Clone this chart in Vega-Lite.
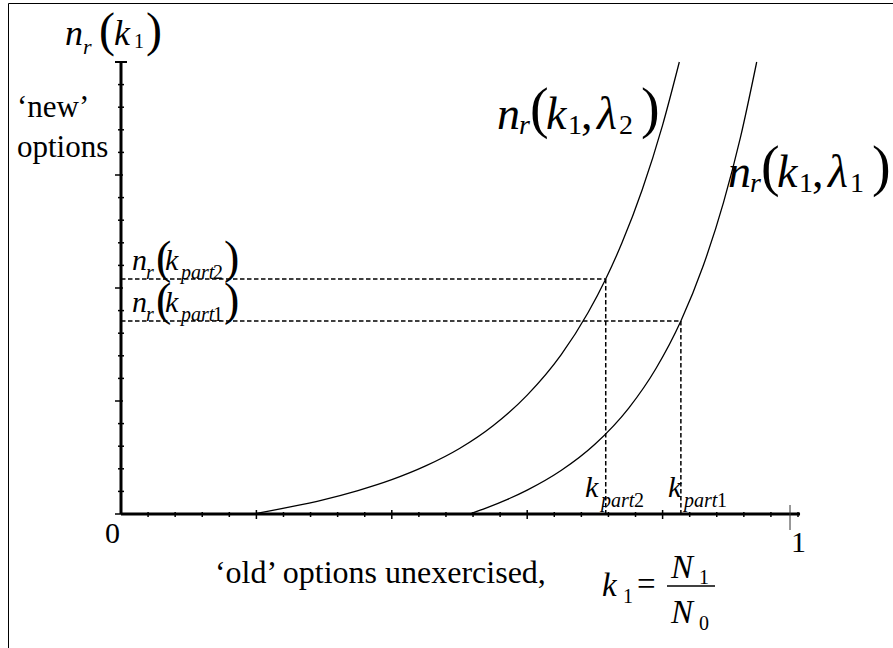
{
  "$schema": "https://vega.github.io/schema/vega-lite/v6.json",
  "width": 885,
  "height": 645,
  "autosize": "none",
  "padding": {"left": 8, "top": 3, "right": 0, "bottom": 0},
  "background": "white",
  "config": {
    "font": "Liberation Serif, Times New Roman, DejaVu Serif, serif",
    "view": {"stroke": "black", "strokeWidth": 1},
    "text": {"font": "Liberation Serif, Times New Roman, DejaVu Serif, serif", "color": "black", "align": "left", "baseline": "alphabetic"}
  },
  "datasets": {
    "curves": [
      {"x": 0.195, "y": 0.0, "c": "lambda2"},
      {"x": 0.22, "y": 0.0068, "c": "lambda2"},
      {"x": 0.25, "y": 0.0156, "c": "lambda2"},
      {"x": 0.3, "y": 0.032, "c": "lambda2"},
      {"x": 0.35, "y": 0.0519, "c": "lambda2"},
      {"x": 0.4, "y": 0.076, "c": "lambda2"},
      {"x": 0.45, "y": 0.1064, "c": "lambda2"},
      {"x": 0.5, "y": 0.145, "c": "lambda2"},
      {"x": 0.55, "y": 0.1959, "c": "lambda2"},
      {"x": 0.6, "y": 0.263, "c": "lambda2"},
      {"x": 0.65, "y": 0.352, "c": "lambda2"},
      {"x": 0.69, "y": 0.4458, "c": "lambda2"},
      {"x": 0.716, "y": 0.52, "c": "lambda2"},
      {"x": 0.74, "y": 0.5999, "c": "lambda2"},
      {"x": 0.77, "y": 0.7179, "c": "lambda2"},
      {"x": 0.8, "y": 0.8605, "c": "lambda2"},
      {"x": 0.8247, "y": 1.0, "c": "lambda2"},
      {"x": 0.515, "y": 0.0, "c": "lambda1"},
      {"x": 0.54, "y": 0.0135, "c": "lambda1"},
      {"x": 0.57, "y": 0.0318, "c": "lambda1"},
      {"x": 0.6, "y": 0.0529, "c": "lambda1"},
      {"x": 0.65, "y": 0.0962, "c": "lambda1"},
      {"x": 0.7, "y": 0.1543, "c": "lambda1"},
      {"x": 0.75, "y": 0.2344, "c": "lambda1"},
      {"x": 0.79, "y": 0.3214, "c": "lambda1"},
      {"x": 0.827, "y": 0.427, "c": "lambda1"},
      {"x": 0.86, "y": 0.5491, "c": "lambda1"},
      {"x": 0.89, "y": 0.6894, "c": "lambda1"},
      {"x": 0.915, "y": 0.8331, "c": "lambda1"},
      {"x": 0.939, "y": 1.0, "c": "lambda1"}
    ],
    "guides": [
      {"x": 0, "y": 0.52, "x2": 0.716, "y2": 0.52},
      {"x": 0.716, "y": 0.52, "x2": 0.716, "y2": 0},
      {"x": 0, "y": 0.427, "x2": 0.827, "y2": 0.427},
      {"x": 0.827, "y": 0.427, "x2": 0.827, "y2": 0}
    ],
    "axes": [
      {"x": 0, "y": 0, "x2": 1.003, "y2": 0},
      {"x": 0, "y": 0, "x2": 0, "y2": 1}
    ],
    "xMinor": [
      {"x": 0.04, "y": 0}, {"x": 0.08, "y": 0}, {"x": 0.12, "y": 0}, {"x": 0.16, "y": 0},
      {"x": 0.24, "y": 0}, {"x": 0.28, "y": 0}, {"x": 0.32, "y": 0}, {"x": 0.36, "y": 0},
      {"x": 0.44, "y": 0}, {"x": 0.48, "y": 0}, {"x": 0.52, "y": 0}, {"x": 0.56, "y": 0},
      {"x": 0.64, "y": 0}, {"x": 0.68, "y": 0}, {"x": 0.72, "y": 0}, {"x": 0.76, "y": 0},
      {"x": 0.84, "y": 0}, {"x": 0.88, "y": 0}, {"x": 0.92, "y": 0}, {"x": 0.96, "y": 0},
      {"x": 1.0, "y": 0}
    ],
    "xMajor": [
      {"x": 0.2, "y": 0}, {"x": 0.4, "y": 0}, {"x": 0.6, "y": 0}, {"x": 0.8, "y": 0}
    ],
    "yMinor": [
      {"x": 0, "y": 0.05}, {"x": 0, "y": 0.1}, {"x": 0, "y": 0.15}, {"x": 0, "y": 0.2},
      {"x": 0, "y": 0.3}, {"x": 0, "y": 0.35}, {"x": 0, "y": 0.4}, {"x": 0, "y": 0.45},
      {"x": 0, "y": 0.55}, {"x": 0, "y": 0.6}, {"x": 0, "y": 0.65}, {"x": 0, "y": 0.7},
      {"x": 0, "y": 0.8}, {"x": 0, "y": 0.85}, {"x": 0, "y": 0.9}, {"x": 0, "y": 0.95}
    ],
    "yMajor": [
      {"x": 0, "y": 0}, {"x": 0, "y": 0.25}, {"x": 0, "y": 0.5}, {"x": 0, "y": 0.75}
    ],
    "yCap": [{"x": 0, "y": 1}],
    "oneMark": [{"x": 0.9882, "y": 0}],
    "plain31": [
      {"x": -0.1536, "y": 0.8783, "t": "‘new’"},
      {"x": -0.1536, "y": 0.7898, "t": "options"}
    ],
    "plain32": [
      {"x": 0.1388, "y": -0.1527, "t": "‘old’ options unexercised,"}
    ],
    "digits30": [
      {"x": -0.0126, "y": -0.0642, "t": "0"},
      {"x": 1.0007, "y": -0.0841, "t": "1"}
    ],
    "it46": [
      {"x": 0.5554, "y": 0.8518, "t": "n"},
      {"x": 0.6278, "y": 0.8518, "t": "k"},
      {"x": 0.7031, "y": 0.8518, "t": "λ"},
      {"x": 0.8966, "y": 0.7235, "t": "n"},
      {"x": 0.969, "y": 0.7235, "t": "k"},
      {"x": 1.0443, "y": 0.7235, "t": "λ"}
    ],
    "itSub28": [
      {"x": 0.5879, "y": 0.8407, "t": "r"},
      {"x": 0.9291, "y": 0.7124, "t": "r"}
    ],
    "upSub28": [
      {"x": 0.6603, "y": 0.8407, "t": "1"},
      {"x": 0.7356, "y": 0.8407, "t": "2"},
      {"x": 1.0015, "y": 0.7124, "t": "1"},
      {"x": 1.0768, "y": 0.7124, "t": "1"}
    ],
    "comma46": [
      {"x": 0.6795, "y": 0.8518, "t": ","},
      {"x": 1.0207, "y": 0.7235, "t": ","}
    ],
    "paren56": [
      {"x": 0.6041, "y": 0.8562, "t": "("},
      {"x": 0.768, "y": 0.8562, "t": ")"},
      {"x": 0.9453, "y": 0.7279, "t": "("},
      {"x": 1.1093, "y": 0.7279, "t": ")"}
    ],
    "it36": [
      {"x": -0.0827, "y": 1.0376, "t": "n"},
      {"x": -0.0103, "y": 1.0376, "t": "k"}
    ],
    "itSub22": [
      {"x": -0.0561, "y": 1.0177, "t": "r"}
    ],
    "paren48": [
      {"x": -0.0325, "y": 1.0343, "t": "("},
      {"x": 0.0369, "y": 1.0343, "t": ")"}
    ],
    "it30": [
      {"x": 0.01625, "y": 0.5398, "t": "n"},
      {"x": 0.065, "y": 0.5398, "t": "k"},
      {"x": 0.01625, "y": 0.4469, "t": "n"},
      {"x": 0.065, "y": 0.4469, "t": "k"},
      {"x": 0.6854, "y": 0.0376, "t": "k"},
      {"x": 0.808, "y": 0.0376, "t": "k"}
    ],
    "it33": [
      {"x": 0.7105, "y": -0.1814, "t": "k"},
      {"x": 0.8124, "y": -0.1416, "t": "N"},
      {"x": 0.8124, "y": -0.2412, "t": "N"}
    ],
    "itSub20": [
      {"x": 0.0369, "y": 0.5199, "t": "r"},
      {"x": 0.0886, "y": 0.5199, "t": "part"},
      {"x": 0.0369, "y": 0.427, "t": "r"},
      {"x": 0.0886, "y": 0.427, "t": "part"},
      {"x": 0.709, "y": 0.0155, "t": "part"},
      {"x": 0.8316, "y": 0.0155, "t": "part"}
    ],
    "upSub20": [
      {"x": 0.0192, "y": 1.031, "t": "1"},
      {"x": 0.1359, "y": 0.5199, "t": "2"},
      {"x": 0.1359, "y": 0.427, "t": "1"},
      {"x": 0.7578, "y": 0.0155, "t": "2"},
      {"x": 0.8804, "y": 0.0155, "t": "1"},
      {"x": 0.7415, "y": -0.1969, "t": "1"},
      {"x": 0.8538, "y": -0.1549, "t": "1"},
      {"x": 0.8538, "y": -0.2566, "t": "0"}
    ],
    "paren46": [
      {"x": 0.0517, "y": 0.5332, "t": "("},
      {"x": 0.1522, "y": 0.5332, "t": ")"},
      {"x": 0.0517, "y": 0.4403, "t": "("},
      {"x": 0.1522, "y": 0.4403, "t": ")"}
    ],
    "eq32": [
      {"x": 0.7622, "y": -0.1792, "t": "="}
    ],
    "fracBar": [
      {"x": 0.8065, "y": -0.1593, "x2": 0.8774, "y2": -0.1593}
    ]
  },
  "encoding": {
    "x": {"field": "x", "type": "quantitative", "scale": {"domain": [-0.16691, 1.14032], "nice": false, "zero": false}, "axis": null},
    "y": {"field": "y", "type": "quantitative", "scale": {"domain": [-0.29646, 1.13053], "nice": false, "zero": false}, "axis": null}
  },
  "layer": [
    {
      "data": {"name": "curves"},
      "mark": {"type": "line", "color": "black", "strokeWidth": 1.3, "interpolate": "monotone"},
      "encoding": {"detail": {"field": "c"}}
    },
    {
      "data": {"name": "guides"},
      "mark": {"type": "rule", "color": "black", "strokeWidth": 1.5, "strokeDash": [4.5, 2.5]},
      "encoding": {"x2": {"field": "x2"}, "y2": {"field": "y2"}}
    },
    {
      "data": {"name": "axes"},
      "mark": {"type": "rule", "color": "black", "strokeWidth": 3},
      "encoding": {"x2": {"field": "x2"}, "y2": {"field": "y2"}}
    },
    {
      "data": {"name": "xMinor"},
      "mark": {"type": "tick", "orient": "vertical", "color": "black", "opacity": 1, "size": 5, "thickness": 1.5, "yOffset": 0.5}
    },
    {
      "data": {"name": "xMajor"},
      "mark": {"type": "tick", "orient": "vertical", "color": "black", "opacity": 1, "size": 9, "thickness": 1.5, "yOffset": 0.5}
    },
    {
      "data": {"name": "yMinor"},
      "mark": {"type": "tick", "orient": "horizontal", "color": "black", "opacity": 1, "size": 6, "thickness": 1.5}
    },
    {
      "data": {"name": "yMajor"},
      "mark": {"type": "tick", "orient": "horizontal", "color": "black", "opacity": 1, "size": 8, "thickness": 1.5, "xOffset": -2}
    },
    {
      "data": {"name": "yCap"},
      "mark": {"type": "tick", "orient": "horizontal", "color": "black", "opacity": 1, "size": 12, "thickness": 2}
    },
    {
      "data": {"name": "oneMark"},
      "mark": {"type": "tick", "orient": "vertical", "color": "#333333", "opacity": 1, "size": 25, "thickness": 1, "yOffset": 3.5}
    },
    {
      "data": {"name": "plain31"},
      "mark": {"type": "text", "fontSize": 31},
      "encoding": {"text": {"field": "t"}}
    },
    {
      "data": {"name": "plain32"},
      "mark": {"type": "text", "fontSize": 32},
      "encoding": {"text": {"field": "t"}}
    },
    {
      "data": {"name": "digits30"},
      "mark": {"type": "text", "fontSize": 30, "align": "center"},
      "encoding": {"text": {"field": "t"}}
    },
    {
      "data": {"name": "it46"},
      "mark": {"type": "text", "fontSize": 46, "fontStyle": "italic"},
      "encoding": {"text": {"field": "t"}}
    },
    {
      "data": {"name": "itSub28"},
      "mark": {"type": "text", "fontSize": 28, "fontStyle": "italic"},
      "encoding": {"text": {"field": "t"}}
    },
    {
      "data": {"name": "upSub28"},
      "mark": {"type": "text", "fontSize": 28},
      "encoding": {"text": {"field": "t"}}
    },
    {
      "data": {"name": "comma46"},
      "mark": {"type": "text", "fontSize": 46},
      "encoding": {"text": {"field": "t"}}
    },
    {
      "data": {"name": "paren56"},
      "mark": {"type": "text", "fontSize": 56},
      "encoding": {"text": {"field": "t"}}
    },
    {
      "data": {"name": "it36"},
      "mark": {"type": "text", "fontSize": 36, "fontStyle": "italic"},
      "encoding": {"text": {"field": "t"}}
    },
    {
      "data": {"name": "itSub22"},
      "mark": {"type": "text", "fontSize": 22, "fontStyle": "italic"},
      "encoding": {"text": {"field": "t"}}
    },
    {
      "data": {"name": "paren48"},
      "mark": {"type": "text", "fontSize": 48},
      "encoding": {"text": {"field": "t"}}
    },
    {
      "data": {"name": "it30"},
      "mark": {"type": "text", "fontSize": 30, "fontStyle": "italic"},
      "encoding": {"text": {"field": "t"}}
    },
    {
      "data": {"name": "it33"},
      "mark": {"type": "text", "fontSize": 33, "fontStyle": "italic"},
      "encoding": {"text": {"field": "t"}}
    },
    {
      "data": {"name": "itSub20"},
      "mark": {"type": "text", "fontSize": 20, "fontStyle": "italic"},
      "encoding": {"text": {"field": "t"}}
    },
    {
      "data": {"name": "upSub20"},
      "mark": {"type": "text", "fontSize": 20},
      "encoding": {"text": {"field": "t"}}
    },
    {
      "data": {"name": "paren46"},
      "mark": {"type": "text", "fontSize": 46},
      "encoding": {"text": {"field": "t"}}
    },
    {
      "data": {"name": "eq32"},
      "mark": {"type": "text", "fontSize": 33},
      "encoding": {"text": {"field": "t"}}
    },
    {
      "data": {"name": "fracBar"},
      "mark": {"type": "rule", "color": "black", "strokeWidth": 1.3},
      "encoding": {"x2": {"field": "x2"}, "y2": {"field": "y2"}}
    }
  ]
}
